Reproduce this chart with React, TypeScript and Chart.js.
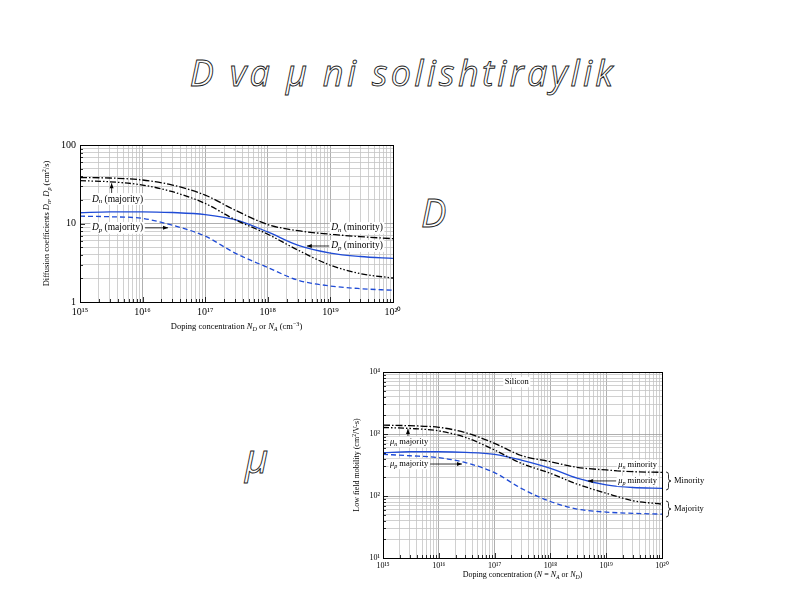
import React, { useEffect, useRef } from 'react';
import { Chart, registerables } from 'chart.js';
Chart.register(...registerables);

// ---------- DATA ----------
const dopingX = [1e15, 3e15, 1e16, 3e16, 1e17, 3e17, 1e18, 3e18, 1e19, 3e19, 1e20];

const DnMinority = [38.5, 38.0, 35.8, 30.9, 23.0, 14.8, 9.7, 8.1, 7.3, 6.8, 6.4];
const DnMajority = [35.1, 34.0, 30.9, 25.4, 18.0, 11.2, 7.3, 4.6, 2.94, 2.3, 2.02];
const DpMinority = [13.7, 14.1, 14.1, 13.8, 13.0, 11.2, 7.8, 5.3, 4.2, 3.8, 3.6];
const DpMajority = [12.4, 12.2, 11.6, 9.5, 6.9, 4.2, 2.75, 1.9, 1.6, 1.48, 1.41];

const muNMinority = [1390, 1360, 1282, 1050, 705, 450, 357, 290, 263, 247, 241];
const muNMajority = [1274, 1230, 1122, 880, 552, 337, 232, 156, 111, 84, 74];
const muPMinority = [499, 517, 517, 506, 470, 380, 280, 194, 151, 137, 133];
const muPMajority = [470, 446, 415, 345, 238, 133, 81.5, 61.5, 55, 52.5, 51];

const xTickLabels = ['10¹⁵', '10¹⁶', '10¹⁷', '10¹⁸', '10¹⁹', '10²⁰'];
const dTickLabels = ['1', '10', '100'];
const muTickLabels = ['10¹', '10²', '10³', '10⁴'];

// ---------- HELPERS ----------
type Seg = { t: string; i?: boolean; sub?: boolean; sup?: boolean };
const SERIF = '"Liberation Serif", "Times New Roman", serif';
const BLUE = '#1f4bd6';

function segFont(s: Seg, size: number) {
  const sz = s.sub || s.sup ? size * 0.72 : size;
  return `${s.i ? 'italic ' : ''}${sz}px ${SERIF}`;
}
function richWidth(ctx: CanvasRenderingContext2D, segs: Seg[], size: number) {
  let w = 0;
  for (const s of segs) {
    ctx.font = segFont(s, size);
    w += ctx.measureText(s.t).width;
  }
  return w;
}
function drawRich(ctx: CanvasRenderingContext2D, segs: Seg[], x: number, y: number, size: number,
  align: 'left' | 'center' | 'right', bg = false) {
  const w = richWidth(ctx, segs, size);
  let cx = align === 'left' ? x : align === 'center' ? x - w / 2 : x - w;
  const x0 = cx;
  if (bg) {
    ctx.fillStyle = '#fff';
    ctx.fillRect(x0 - 1.5, y - size * 0.62, w + 3, size * 1.24);
  }
  ctx.textBaseline = 'middle';
  ctx.textAlign = 'left';
  ctx.fillStyle = '#000';
  for (const s of segs) {
    ctx.font = segFont(s, size);
    const dy = s.sub ? size * 0.28 : s.sup ? -size * 0.36 : 0;
    ctx.fillText(s.t, cx, y + dy);
    cx += ctx.measureText(s.t).width;
  }
  return { left: x0, right: x0 + w };
}
function arrow(ctx: CanvasRenderingContext2D, x1: number, y1: number, x2: number, y2: number) {
  ctx.strokeStyle = '#000';
  ctx.fillStyle = '#000';
  ctx.lineWidth = 0.8;
  ctx.setLineDash([]);
  ctx.beginPath();
  ctx.moveTo(x1, y1);
  ctx.lineTo(x2, y2);
  ctx.stroke();
  const ang = Math.atan2(y2 - y1, x2 - x1);
  const L = 5, W = 2;
  ctx.beginPath();
  ctx.moveTo(x2, y2);
  ctx.lineTo(x2 - L * Math.cos(ang) + W * Math.sin(ang), y2 - L * Math.sin(ang) - W * Math.cos(ang));
  ctx.lineTo(x2 - L * Math.cos(ang) - W * Math.sin(ang), y2 - L * Math.sin(ang) + W * Math.cos(ang));
  ctx.closePath();
  ctx.fill();
}
function isDecade(v: number) {
  const l = Math.log10(v);
  return Math.abs(l - Math.round(l)) < 1e-6;
}
function logTickValues(minExp: number, maxExp: number) {
  const v: number[] = [];
  for (let e = minExp; e < maxExp; e++) for (let k = 1; k < 10; k++) v.push(k * Math.pow(10, e));
  v.push(Math.pow(10, maxExp));
  return v;
}

type Ann = { segs: Seg[]; x: number; y: number; align: 'left' | 'right' | 'center'; arrowTo?: [number, number] };
type Arr = { from: [number, number]; to: [number, number] };
type Brace = { y1: number; y2: number; label: string };

function decorPlugin(o: {
  xTitle: Seg[]; yTitle: Seg[]; xTitleDy: number; yTitleDx: number; titleSize: number;
  annSize: number; anns: Ann[]; arrows: Arr[]; braces?: Brace[];
}) {
  return {
    id: 'decor',
    afterDatasetsDraw(chart: any) {
      const ctx: CanvasRenderingContext2D = chart.ctx;
      const a = chart.chartArea;
      const xs = chart.scales.x;
      const ys = chart.scales.y;
      ctx.save();
      ctx.setLineDash([]);
      ctx.strokeStyle = '#000';
      ctx.lineWidth = 0.8;
      // inward ticks
      ctx.beginPath();
      for (const t of xs.ticks) {
        const px = Math.round(xs.getPixelForValue(t.value)) + 0.5;
        const L = isDecade(t.value) ? 5 : 3;
        ctx.moveTo(px, a.bottom);
        ctx.lineTo(px, a.bottom - L);
      }
      for (const t of ys.ticks) {
        const py = Math.round(ys.getPixelForValue(t.value)) + 0.5;
        const L = isDecade(t.value) ? 5 : 3;
        ctx.moveTo(a.left, py);
        ctx.lineTo(a.left + L, py);
      }
      ctx.stroke();
      // frame
      ctx.lineWidth = 1;
      ctx.strokeRect(Math.round(a.left) + 0.5, Math.round(a.top) + 0.5, Math.round(a.right - a.left), Math.round(a.bottom - a.top));
      // annotations
      for (const an of o.anns) {
        const px = xs.getPixelForValue(an.x);
        const py = ys.getPixelForValue(an.y);
        const r = drawRich(ctx, an.segs, px, py, o.annSize, an.align, true);
        if (an.arrowTo) {
          const tx = xs.getPixelForValue(an.arrowTo[0]);
          const ty = ys.getPixelForValue(an.arrowTo[1]);
          const sx = tx > r.right ? r.right + 2 : r.left - 2;
          arrow(ctx, sx, py, tx, ty);
        }
      }
      for (const ar of o.arrows) {
        arrow(ctx, xs.getPixelForValue(ar.from[0]), ys.getPixelForValue(ar.from[1]),
          xs.getPixelForValue(ar.to[0]), ys.getPixelForValue(ar.to[1]));
      }
      if (o.braces) {
        for (const b of o.braces) {
          const x = a.right + 4;
          const y1 = ys.getPixelForValue(b.y1);
          const y2 = ys.getPixelForValue(b.y2);
          const m = (y1 + y2) / 2;
          ctx.strokeStyle = '#000';
          ctx.lineWidth = 0.8;
          ctx.beginPath();
          ctx.moveTo(x, y1);
          ctx.quadraticCurveTo(x + 2.5, y1, x + 2.5, y1 + 2.5);
          ctx.lineTo(x + 2.5, m - 2.5);
          ctx.quadraticCurveTo(x + 2.5, m, x + 5, m);
          ctx.quadraticCurveTo(x + 2.5, m, x + 2.5, m + 2.5);
          ctx.lineTo(x + 2.5, y2 - 2.5);
          ctx.quadraticCurveTo(x + 2.5, y2, x, y2);
          ctx.stroke();
          drawRich(ctx, [{ t: b.label }], x + 8, m, o.annSize, 'left');
        }
      }
      // axis titles
      drawRich(ctx, o.xTitle, (a.left + a.right) / 2, a.bottom + o.xTitleDy, o.titleSize, 'center');
      ctx.translate(a.left - o.yTitleDx, (a.top + a.bottom) / 2);
      ctx.rotate(-Math.PI / 2);
      drawRich(ctx, o.yTitle, 0, 0, o.titleSize, 'center');
      ctx.restore();
    },
  };
}

function series(label: string, ys: number[], color: string, dash: number[]) {
  return {
    label,
    data: dopingX.map((x, i) => ({ x, y: ys[i] })),
    borderColor: color,
    borderWidth: 1.3,
    borderDash: dash,
    pointRadius: 0,
    fill: false,
    cubicInterpolationMode: 'monotone' as const,
  };
}

function logAxis(minExp: number, maxExp: number, labels: string[], size: number, pad: number, fitKey: 'width' | 'height', fitVal: number) {
  return {
    type: 'logarithmic' as const,
    min: Math.pow(10, minExp),
    max: Math.pow(10, maxExp),
    afterBuildTicks: (s: any) => {
      s.ticks = logTickValues(minExp, maxExp).map((v) => ({ value: v }));
    },
    afterFit: (s: any) => {
      s[fitKey] = fitVal;
    },
    grid: {
      drawTicks: false,
      color: (c: any) => (c.tick && isDecade(c.tick.value) ? '#9a9a9a' : '#c4c4c4'),
      lineWidth: 0.8,
    },
    border: { display: false },
    ticks: {
      autoSkip: false,
      maxRotation: 0,
      minRotation: 0,
      padding: pad,
      color: '#000',
      font: { family: SERIF, size },
      callback: (v: any) => (isDecade(Number(v)) ? labels[Math.round(Math.log10(Number(v))) - minExp] : ''),
    },
    title: { display: false },
  };
}

// ---------- CHART CONFIGS ----------
function diffusionConfig(): any {
  return {
    type: 'line',
    data: {
      datasets: [
        series('Dn minority', DnMinority, '#000', [7, 2, 1.5, 2]),
        series('Dn majority', DnMajority, '#000', [6, 2, 1.5, 2, 1.5, 2]),
        series('Dp minority', DpMinority, BLUE, []),
        series('Dp majority', DpMajority, BLUE, [5, 3]),
      ],
    },
    options: {
      responsive: false,
      animation: false,
      layout: { padding: { left: 0, right: 27, top: 10, bottom: 0 } },
      plugins: { legend: { display: false }, tooltip: { enabled: false } },
      scales: {
        x: logAxis(15, 20, xTickLabels, 10, 4, 'height', 48),
        y: logAxis(0, 2, dTickLabels, 10, 4, 'width', 60),
      },
    },
    plugins: [
      decorPlugin({
        xTitle: [{ t: 'Doping concentration ' }, { t: 'N', i: true }, { t: 'D', i: true, sub: true }, { t: ' or ' },
          { t: 'N', i: true }, { t: 'A', i: true, sub: true }, { t: ' (cm' }, { t: '−3', sup: true }, { t: ')' }],
        yTitle: [{ t: 'Diffusion coefficients ' }, { t: 'D', i: true }, { t: 'n', i: true, sub: true }, { t: ', ' },
          { t: 'D', i: true }, { t: 'p', i: true, sub: true }, { t: ' (cm' }, { t: '2', sup: true }, { t: '/s)' }],
        xTitleDy: 25,
        yTitleDx: 33,
        titleSize: 8.5,
        annSize: 9.5,
        anns: [
          { segs: [{ t: 'D', i: true }, { t: 'n', i: true, sub: true }, { t: ' (majority)' }], x: 1.55e15, y: 20.5, align: 'left' },
          { segs: [{ t: 'D', i: true }, { t: 'p', i: true, sub: true }, { t: ' (majority)' }], x: 1.55e15, y: 8.8, align: 'left', arrowTo: [2.55e16, 8.8] },
          { segs: [{ t: 'D', i: true }, { t: 'n', i: true, sub: true }, { t: ' (minority)' }], x: 6.9e19, y: 8.8, align: 'right' },
          { segs: [{ t: 'D', i: true }, { t: 'p', i: true, sub: true }, { t: ' (minority)' }], x: 6.9e19, y: 5.17, align: 'right', arrowTo: [4.2e18, 5.17] },
        ],
        arrows: [{ from: [3.2e15, 24.5], to: [3.2e15, 32.5] }],
      }),
    ],
  };
}

function mobilityConfig(): any {
  return {
    type: 'line',
    data: {
      datasets: [
        series('μn minority', muNMinority, '#000', [7, 2, 1.5, 2]),
        series('μn majority', muNMajority, '#000', [6, 2, 1.5, 2, 1.5, 2]),
        series('μp minority', muPMinority, BLUE, []),
        series('μp majority', muPMajority, BLUE, [5, 3]),
      ],
    },
    options: {
      responsive: false,
      animation: false,
      layout: { padding: { left: 0, right: 58, top: 10, bottom: 0 } },
      plugins: { legend: { display: false }, tooltip: { enabled: false } },
      scales: {
        x: logAxis(15, 20, xTickLabels, 8, 3, 'height', 34),
        y: logAxis(1, 4, muTickLabels, 8, 3, 'width', 53),
      },
    },
    plugins: [
      decorPlugin({
        xTitle: [{ t: 'Doping concentration (' }, { t: 'N', i: true }, { t: ' = ' }, { t: 'N', i: true }, { t: 'A', i: true, sub: true },
          { t: ' or ' }, { t: 'N', i: true }, { t: 'D', i: true, sub: true }, { t: ')' }],
        yTitle: [{ t: 'Low field mobility (cm' }, { t: '2', sup: true }, { t: '/V-s)' }],
        xTitleDy: 17,
        yTitleDx: 26,
        titleSize: 8,
        annSize: 8.5,
        anns: [
          { segs: [{ t: 'Silicon' }], x: 2.5e17, y: 6900, align: 'center' },
          { segs: [{ t: 'μ', i: true }, { t: 'n', i: true, sub: true }, { t: ' majority' }], x: 1.33e15, y: 743, align: 'left' },
          { segs: [{ t: 'μ', i: true }, { t: 'p', i: true, sub: true }, { t: ' majority' }], x: 1.33e15, y: 328, align: 'left', arrowTo: [2.6e16, 328] },
          { segs: [{ t: 'μ', i: true }, { t: 'n', i: true, sub: true }, { t: ' minority' }], x: 8.1e19, y: 316, align: 'right' },
          { segs: [{ t: 'μ', i: true }, { t: 'p', i: true, sub: true }, { t: ' minority' }], x: 8.1e19, y: 175, align: 'right', arrowTo: [4.7e18, 175] },
        ],
        arrows: [{ from: [2.8e15, 929], to: [2.8e15, 1200] }],
        braces: [
          { y1: 244, y2: 125, label: 'Minority' },
          { y1: 83, y2: 45.8, label: 'Majority' },
        ],
      }),
    ],
  };
}

// ---------- COMPONENTS ----------
function ChartBox(props: { left: number; top: number; width: number; height: number; make: () => any }) {
  const ref = useRef<HTMLCanvasElement | null>(null);
  useEffect(() => {
    if (!ref.current) return;
    const chart = new Chart(ref.current, props.make());
    return () => chart.destroy();
  }, []);
  return (
    <canvas
      ref={ref}
      width={props.width}
      height={props.height}
      style={{ position: 'absolute', left: props.left, top: props.top, width: props.width, height: props.height }}
    />
  );
}

const outline: React.CSSProperties = {
  position: 'absolute',
  fontFamily: '"Open Sans", sans-serif',
  fontStyle: 'italic',
  fontWeight: 400,
  color: '#fff',
  WebkitTextStroke: '0.9px #222',
  lineHeight: 1,
  whiteSpace: 'nowrap',
};

export default function App() {
  return (
    <div style={{ position: 'absolute', left: 0, top: 0, width: 800, height: 600, background: '#fff', overflow: 'hidden' }}>
      <div style={{ ...outline, left: 0, width: 800, textAlign: 'center', top: 55, fontSize: 36, letterSpacing: '3.3px', paddingLeft: 3 }}>D va μ ni solishtiraylik</div>
      <div style={{ ...outline, left: 421, top: 193, fontSize: 38 }}>D</div>
      <div style={{ ...outline, left: 245, top: 438, fontSize: 40 }}>μ</div>
      <ChartBox left={20} top={135} width={400} height={215} make={diffusionConfig} />
      <ChartBox left={330} top={362} width={390} height={230} make={mobilityConfig} />
    </div>
  );
}
